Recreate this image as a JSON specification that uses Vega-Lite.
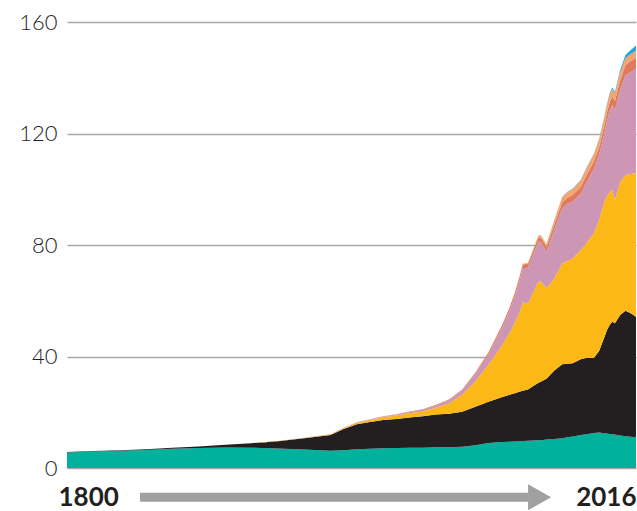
{
  "$schema": "https://vega.github.io/schema/vega-lite/v6.json",
  "width": 569,
  "height": 446,
  "autosize": "none",
  "padding": {"left": 67, "top": 22, "right": 1, "bottom": 43},
  "background": "white",
  "config": {"view": {"stroke": null}},
  "layer": [
    {
      "data": {"values": [
        {"year": 1800, "biomass": 5.6, "coal": 0.1, "oil": 0, "gas": 0, "hydro": 0, "nuclear": 0, "renewables": 0},
        {"year": 1810, "biomass": 5.95, "coal": 0.12, "oil": 0, "gas": 0, "hydro": 0, "nuclear": 0, "renewables": 0},
        {"year": 1820, "biomass": 6.2, "coal": 0.15, "oil": 0, "gas": 0, "hydro": 0, "nuclear": 0, "renewables": 0},
        {"year": 1830, "biomass": 6.5, "coal": 0.25, "oil": 0, "gas": 0, "hydro": 0, "nuclear": 0, "renewables": 0},
        {"year": 1840, "biomass": 6.9, "coal": 0.35, "oil": 0, "gas": 0, "hydro": 0, "nuclear": 0, "renewables": 0},
        {"year": 1850, "biomass": 7.2, "coal": 0.55, "oil": 0, "gas": 0, "hydro": 0, "nuclear": 0, "renewables": 0},
        {"year": 1860, "biomass": 7.35, "coal": 1.0, "oil": 0, "gas": 0, "hydro": 0, "nuclear": 0, "renewables": 0},
        {"year": 1870, "biomass": 7.3, "coal": 1.6, "oil": 0.01, "gas": 0, "hydro": 0, "nuclear": 0, "renewables": 0},
        {"year": 1880, "biomass": 7.0, "coal": 2.6, "oil": 0.05, "gas": 0, "hydro": 0, "nuclear": 0, "renewables": 0},
        {"year": 1890, "biomass": 6.6, "coal": 4.1, "oil": 0.1, "gas": 0.03, "hydro": 0, "nuclear": 0, "renewables": 0},
        {"year": 1900, "biomass": 6.2, "coal": 5.6, "oil": 0.2, "gas": 0.06, "hydro": 0.01, "nuclear": 0, "renewables": 0},
        {"year": 1905, "biomass": 6.4, "coal": 7.6, "oil": 0.3, "gas": 0.1, "hydro": 0.03, "nuclear": 0, "renewables": 0},
        {"year": 1910, "biomass": 6.7, "coal": 9.0, "oil": 0.5, "gas": 0.15, "hydro": 0.05, "nuclear": 0, "renewables": 0},
        {"year": 1915, "biomass": 6.9, "coal": 9.6, "oil": 0.7, "gas": 0.18, "hydro": 0.07, "nuclear": 0, "renewables": 0},
        {"year": 1920, "biomass": 7.1, "coal": 10.1, "oil": 1.0, "gas": 0.23, "hydro": 0.1, "nuclear": 0, "renewables": 0},
        {"year": 1925, "biomass": 7.2, "coal": 10.4, "oil": 1.2, "gas": 0.35, "hydro": 0.12, "nuclear": 0, "renewables": 0},
        {"year": 1930, "biomass": 7.3, "coal": 10.8, "oil": 1.5, "gas": 0.5, "hydro": 0.15, "nuclear": 0, "renewables": 0},
        {"year": 1935, "biomass": 7.3, "coal": 11.3, "oil": 1.7, "gas": 0.6, "hydro": 0.18, "nuclear": 0, "renewables": 0},
        {"year": 1940, "biomass": 7.4, "coal": 11.8, "oil": 2.4, "gas": 0.85, "hydro": 0.2, "nuclear": 0, "renewables": 0},
        {"year": 1945, "biomass": 7.4, "coal": 12.1, "oil": 3.6, "gas": 1.2, "hydro": 0.25, "nuclear": 0, "renewables": 0},
        {"year": 1950, "biomass": 7.6, "coal": 12.6, "oil": 6.1, "gas": 1.57, "hydro": 0.33, "nuclear": 0, "renewables": 0},
        {"year": 1955, "biomass": 8.2, "coal": 13.8, "oil": 9.0, "gas": 2.8, "hydro": 0.5, "nuclear": 0, "renewables": 0},
        {"year": 1960, "biomass": 9.0, "coal": 14.8, "oil": 13.2, "gas": 3.8, "hydro": 0.69, "nuclear": 0.01, "renewables": 0.01},
        {"year": 1965, "biomass": 9.3, "coal": 16.1, "oil": 18.4, "gas": 6.2, "hydro": 0.92, "nuclear": 0.03, "renewables": 0.02},
        {"year": 1968, "biomass": 9.4, "coal": 16.9, "oil": 22.1, "gas": 8.1, "hydro": 1.05, "nuclear": 0.05, "renewables": 0.02},
        {"year": 1970, "biomass": 9.5, "coal": 17.3, "oil": 25.2, "gas": 9.7, "hydro": 1.18, "nuclear": 0.08, "renewables": 0.02},
        {"year": 1972, "biomass": 9.6, "coal": 17.8, "oil": 29.0, "gas": 11.65, "hydro": 1.27, "nuclear": 0.15, "renewables": 0.03},
        {"year": 1973, "biomass": 9.7, "coal": 18.0, "oil": 31.8, "gas": 12.2, "hydro": 1.3, "nuclear": 0.2, "renewables": 0.03},
        {"year": 1975, "biomass": 9.8, "coal": 18.4, "oil": 30.8, "gas": 12.8, "hydro": 1.43, "nuclear": 0.37, "renewables": 0.03},
        {"year": 1977, "biomass": 9.9, "coal": 19.5, "oil": 33.6, "gas": 13.6, "hydro": 1.5, "nuclear": 0.5, "renewables": 0.04},
        {"year": 1979, "biomass": 10.0, "coal": 20.6, "oil": 36.4, "gas": 14.25, "hydro": 1.65, "nuclear": 0.65, "renewables": 0.05},
        {"year": 1980, "biomass": 10.0, "coal": 21.0, "oil": 35.8, "gas": 14.1, "hydro": 1.73, "nuclear": 0.71, "renewables": 0.05},
        {"year": 1982, "biomass": 10.2, "coal": 21.8, "oil": 32.5, "gas": 13.1, "hydro": 1.8, "nuclear": 0.9, "renewables": 0.07},
        {"year": 1985, "biomass": 10.4, "coal": 24.6, "oil": 33.0, "gas": 17.4, "hydro": 1.98, "nuclear": 1.49, "renewables": 0.1},
        {"year": 1988, "biomass": 10.7, "coal": 26.5, "oil": 36.2, "gas": 19.9, "hydro": 2.08, "nuclear": 1.8, "renewables": 0.12},
        {"year": 1990, "biomass": 11.0, "coal": 26.4, "oil": 36.9, "gas": 20.5, "hydro": 2.16, "nuclear": 2.0, "renewables": 0.14},
        {"year": 1992, "biomass": 11.3, "coal": 26.3, "oil": 37.6, "gas": 20.5, "hydro": 2.3, "nuclear": 2.1, "renewables": 0.16},
        {"year": 1995, "biomass": 11.8, "coal": 27.2, "oil": 39.2, "gas": 20.1, "hydro": 2.49, "nuclear": 2.33, "renewables": 0.19},
        {"year": 1997, "biomass": 12.1, "coal": 27.4, "oil": 40.9, "gas": 21.7, "hydro": 2.6, "nuclear": 2.4, "renewables": 0.21},
        {"year": 2000, "biomass": 12.6, "coal": 26.9, "oil": 44.7, "gas": 23.1, "hydro": 2.65, "nuclear": 2.58, "renewables": 0.25},
        {"year": 2002, "biomass": 12.7, "coal": 29.3, "oil": 47.0, "gas": 23.4, "hydro": 2.65, "nuclear": 2.65, "renewables": 0.29},
        {"year": 2004, "biomass": 12.5, "coal": 34.4, "oil": 48.6, "gas": 24.7, "hydro": 2.8, "nuclear": 2.75, "renewables": 0.35},
        {"year": 2005, "biomass": 12.4, "coal": 37.1, "oil": 48.0, "gas": 27.2, "hydro": 2.92, "nuclear": 2.77, "renewables": 0.4},
        {"year": 2006, "biomass": 12.2, "coal": 39.1, "oil": 47.8, "gas": 29.1, "hydro": 3.0, "nuclear": 2.8, "renewables": 0.46},
        {"year": 2007, "biomass": 12.1, "coal": 40.4, "oil": 47.3, "gas": 30.4, "hydro": 3.04, "nuclear": 2.72, "renewables": 0.53},
        {"year": 2008, "biomass": 12.0, "coal": 39.9, "oil": 44.2, "gas": 32.4, "hydro": 3.2, "nuclear": 2.7, "renewables": 0.62},
        {"year": 2010, "biomass": 11.7, "coal": 43.2, "oil": 47.8, "gas": 33.05, "hydro": 3.43, "nuclear": 2.77, "renewables": 0.85},
        {"year": 2012, "biomass": 11.4, "coal": 45.0, "oil": 48.7, "gas": 35.8, "hydro": 3.65, "nuclear": 2.47, "renewables": 1.15},
        {"year": 2014, "biomass": 11.2, "coal": 44.3, "oil": 50.0, "gas": 36.6, "hydro": 3.9, "nuclear": 2.54, "renewables": 1.45},
        {"year": 2016, "biomass": 11.0, "coal": 43.3, "oil": 51.5, "gas": 37.3, "hydro": 4.02, "nuclear": 2.61, "renewables": 1.8}
      ]},
      "transform": [
        {"fold": ["biomass", "coal", "oil", "gas", "hydro", "nuclear", "renewables"], "as": ["source", "value"]},
        {"calculate": "indexof(['biomass','coal','oil','gas','hydro','nuclear','renewables'], datum.source)", "as": "rank"}
      ],
      "mark": {"type": "area", "interpolate": "linear", "strokeWidth": 0},
      "encoding": {
        "x": {
          "field": "year", "type": "quantitative",
          "scale": {"domain": [1800, 2016], "nice": false, "zero": false},
          "axis": {
            "values": [1800, 2016], "format": "d", "title": null, "domain": false, "ticks": false, "tickSize": 0, "grid": false,
            "labelFlush": true, "labelFont": "Lato", "labelFontSize": 26, "labelFontWeight": "bold",
            "labelColor": "#231f20", "labelBaseline": "middle", "labelPadding": 29,
            "labelOffset": {"condition": {"test": "datum.value === 1800", "value": -9}, "value": 0}
          }
        },
        "y": {
          "field": "value", "type": "quantitative", "stack": "zero",
          "scale": {"domain": [0, 160], "nice": false},
          "axis": {
            "values": [0, 40, 80, 120, 160], "format": "d", "title": null, "domain": false, "ticks": false, "tickSize": 0,
            "labelPadding": 10, "labelFont": "Lato", "labelFontSize": 22, "labelFontWeight": 300, "labelColor": "#1e1e1e",
            "gridColor": "#a8a8a8", "gridWidth": 1.5
          }
        },
        "color": {
          "field": "source", "type": "nominal", "legend": null,
          "scale": {
            "domain": ["biomass", "coal", "oil", "gas", "hydro", "nuclear", "renewables"],
            "range": ["#00b29c", "#231f20", "#fbb817", "#cc96b4", "#e07a5c", "#f3a66f", "#27a5db"]
          }
        },
        "order": {"field": "rank", "type": "quantitative"}
      }
    },
    {
      "data": {"values": [{}]},
      "mark": {"type": "rule", "color": "#a0a0a0", "strokeWidth": 9, "strokeCap": "butt"},
      "encoding": {
        "x": {"datum": 1827.7, "type": "quantitative"},
        "x2": {"datum": 1975.2},
        "y": {"datum": -10.5, "type": "quantitative"}
      }
    },
    {
      "data": {"values": [{}]},
      "mark": {"type": "point", "shape": "M-0.885,-1L0.885,0L-0.885,1Z", "filled": true, "color": "#a0a0a0", "opacity": 1, "size": 676, "strokeWidth": 0},
      "encoding": {
        "x": {"datum": 1979.4, "type": "quantitative"},
        "y": {"datum": -10.5, "type": "quantitative"}
      }
    }
  ]
}
